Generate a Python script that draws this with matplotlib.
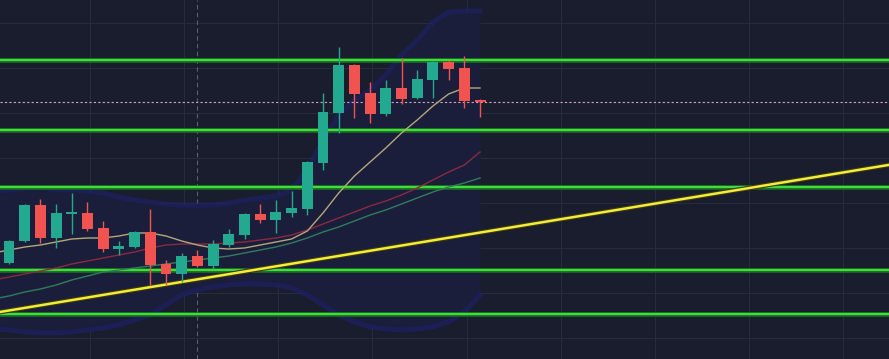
## Candlestick chart with levels, trend line, moving averages and bands
import numpy as np
import matplotlib.pyplot as plt

# candles (index 0..30), heights measured from the bottom of the chart
opens = [96, 118, 154, 121, 145, 146, 131, 110, 112, 127, 95, 85, 103, 93, 114, 124,
         145, 139, 146, 150, 196, 246, 294, 266, 245, 271, 261, 279, 297, 291, 259]
closes = [118, 154, 121, 146, 146.8, 130, 110, 113, 127, 94, 85, 103, 93, 115, 125, 145,
          139, 147, 151, 197, 247, 294, 265, 245, 271, 260, 280, 297, 290, 258, 257]
highs = [119, 155, 160, 155, 166, 157, 138, 118, 128, 150, 99, 106, 109, 119, 130, 146,
         155, 159, 168, 198, 266, 312, 295, 277, 279, 301, 289, 298, 299, 303, 260]
lows = [95, 117, 116, 111, 125, 128, 107, 104, 111, 74, 74, 77, 92, 90, 112, 120,
        136, 126, 142, 144, 189, 226, 241, 236, 243, 255, 260, 261, 279, 251, 242]

# indicators (index -1..30)
ma_fast = [106, 109, 112, 114, 117, 120, 121, 121, 123, 126, 126, 123, 118, 114, 111, 110,
           111, 114, 117, 120, 128, 146, 166, 183, 197, 211, 226, 239, 253, 265, 271, 271]
ma_mid = [79, 82, 85, 88, 91, 95, 98, 101, 104, 107, 111, 114, 115, 115, 115, 116, 117,
          119, 121, 124, 129, 135, 141, 147, 153, 158, 164, 171, 179, 187, 194, 207]
ma_slow = [60, 63, 67, 70, 74, 79, 83, 87, 89, 91, 93, 95, 97, 99, 101, 103, 106, 109,
           112, 116, 121, 127, 132, 138, 144, 149, 155, 161, 167, 172, 176, 181]
band_up = [168, 169, 171, 171, 170, 169, 168, 166, 162, 159, 157, 155, 154, 154, 154,
           156, 159, 161, 163, 169, 189, 219, 244, 259, 269, 284, 304, 319, 337, 347, 348, 348]
band_lo = [30, 29, 27, 26, 26, 27, 29, 31, 34, 39, 44, 54, 64, 69, 72, 74, 75, 75, 74,
           71, 64, 54, 44, 37, 32, 30, 29, 30, 32, 37, 47, 64]

levels = [299, 229, 172, 89, 45]
last_price = 257
trend_a = (0, 48.5)
trend_b = (50, 178.4)
marker_bar = 12

idx = np.arange(len(opens))
ind_idx = np.arange(-1, len(opens))

bg = '#1a1d2e'
up_col = '#22a98f'
dn_col = '#f05350'

fig = plt.figure(figsize=(8.89, 3.59), dpi=100, facecolor=bg)
ax = fig.add_axes([0, 0, 1, 1], facecolor=bg)
ax.set_xlim(-0.573, 56.05)
ax.set_ylim(0, 359)

# grid
for gx in np.arange(5.15, 56, 6.0):
    ax.axvline(gx, color='#272b3e', lw=0.8, zorder=0)
for gy in np.arange(21, 359, 45):
    ax.axhline(gy, color='#272b3e', lw=0.8, zorder=0)
ax.axvline(marker_bar, color='#5a5e70', lw=0.8, ls=(0, (4, 3)), zorder=1)

# bands
ax.fill_between(ind_idx, band_lo, band_up, color='#1b1e3a', zorder=1, lw=0)
ax.plot(ind_idx, band_up, color='#1e2170', lw=3.5, alpha=0.55, zorder=1)
ax.plot(ind_idx, band_lo, color='#1e2170', lw=3.5, alpha=0.55, zorder=1)

# horizontal levels
for lv in levels:
    ax.axhline(lv, color='#1b6b22', lw=3.4, zorder=2)
    ax.axhline(lv, color='#3fdc3a', lw=1.6, zorder=2)

# trend line
ax.axline(trend_a, trend_b, color='#3a3a10', lw=3.4, zorder=3)
ax.axline(trend_a, trend_b, color='#f3ec3c', lw=1.8, zorder=3)

# moving averages
ax.plot(ind_idx, ma_slow, color='#2f7d5e', lw=1, zorder=3)
ax.plot(ind_idx, ma_mid, color='#8a2a40', lw=1, zorder=3)
ax.plot(ind_idx, ma_fast, color='#b5a67c', lw=1, zorder=3)

# last price line
ax.axhline(last_price, color='#d8a2b8', lw=0.8, ls=(0, (2, 2)), zorder=2)

# candles
o = np.array(opens, dtype=float)
c = np.array(closes, dtype=float)
cols = [up_col if cc >= oo else dn_col for oo, cc in zip(o, c)]
ax.vlines(idx, lows, highs, colors=cols, lw=1, zorder=4)
ax.bar(idx, np.maximum(np.abs(c - o), 1.2), bottom=np.minimum(o, c), width=0.7,
       color=cols, zorder=5, lw=0)

ax.set_xticks([])
ax.set_yticks([])
for s in ax.spines.values():
    s.set_visible(False)

fig.savefig('out.png', dpi=100, facecolor=bg)
